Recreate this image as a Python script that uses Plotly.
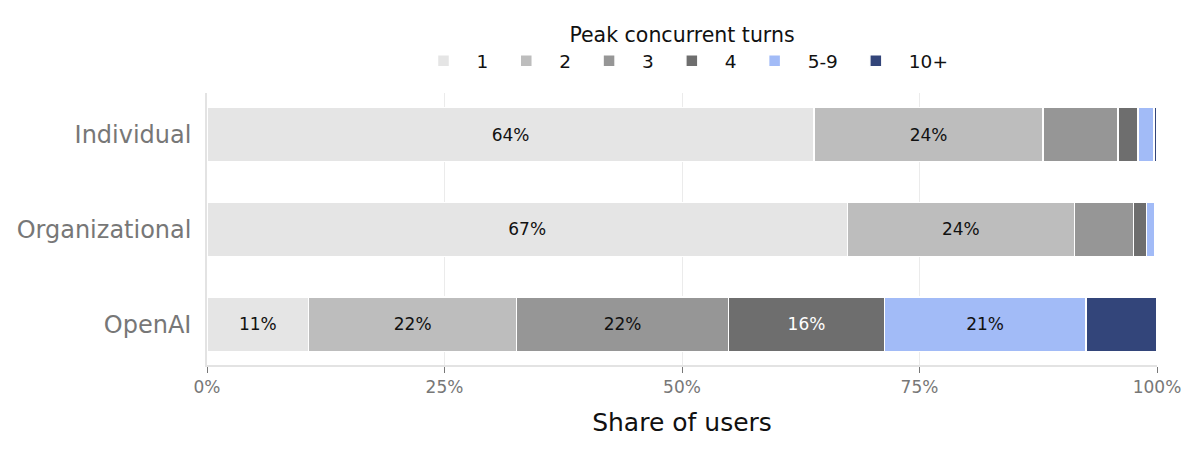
import plotly.graph_objects as go

categories = ["Individual", "Organizational", "OpenAI"]
turn_groups = ["1", "2", "3", "4", "5-9", "10+"]
share_1 = [63.9, 67.4, 10.7]
share_2 = [24.1, 23.9, 21.9]
share_3 = [7.9, 6.2, 22.3]
share_4 = [2.1, 1.4, 16.4]
share_5_9 = [1.7, 0.9, 21.2]
share_10p = [0.3, 0.2, 7.5]

series = [share_1, share_2, share_3, share_4, share_5_9, share_10p]
colors = ["#e5e5e5", "#bdbdbd", "#969696", "#6e6e6e", "#a2bbf7", "#33457a"]
text_colors = ["#111111", "#111111", "#111111", "#ffffff", "#111111", "#ffffff"]

FONT = "DejaVu Sans"

fig = go.Figure()
for name, vals, col, tcol in zip(turn_groups, series, colors, text_colors):
    fig.add_trace(go.Bar(
        y=categories,
        x=[v / 100 for v in vals],
        name=name,
        orientation="h",
        marker=dict(color=col, line=dict(color="white", width=1.5)),
        text=[f"{round(v)}%" if v >= 10 else "" for v in vals],
        textposition="inside",
        insidetextanchor="middle",
        textangle=0,
        constraintext="none",
        textfont=dict(family=FONT, size=17, color=tcol),
        hoverinfo="skip",
    ))

fig.update_layout(
    width=1198,
    height=452,
    barmode="stack",
    bargap=0.43,
    plot_bgcolor="white",
    paper_bgcolor="white",
    font=dict(family=FONT, color="#111111"),
    margin=dict(l=199, r=49, t=85, b=95, autoexpand=False),
    legend=dict(
        orientation="h",
        x=0.5,
        xanchor="center",
        y=1.285,
        yanchor="top",
        title=dict(text="Peak concurrent turns", side="top center",
                   font=dict(family=FONT, size=20.5, color="#111111")),
        font=dict(family=FONT, size=18.5, color="#111111"),
        traceorder="normal",
        itemwidth=56,
        bgcolor="rgba(0,0,0,0)",
    ),
    xaxis=dict(
        range=[0, 1],
        tickvals=[0, 0.25, 0.5, 0.75, 1],
        tickformat=".0%",
        showgrid=True,
        gridcolor="#ebebeb",
        gridwidth=1,
        zeroline=False,
        showline=True,
        linecolor="#e3e3e3",
        linewidth=1.5,
        ticks="outside",
        ticklen=6,
        tickcolor="#777777",
        tickfont=dict(family=FONT, size=17, color="#777777"),
        title=dict(text="Share of users", font=dict(family=FONT, size=25, color="#111111"), standoff=17),
    ),
    yaxis=dict(
        categoryorder="array",
        categoryarray=categories,
        range=[2.43, -0.44],
        showgrid=False,
        zeroline=False,
        showline=True,
        linecolor="#e3e3e3",
        linewidth=1.5,
        ticks="",
        ticklabelstandoff=9,
        tickfont=dict(family=FONT, size=24, color="#777777"),
    ),
)

fig.write_html("out.html")
